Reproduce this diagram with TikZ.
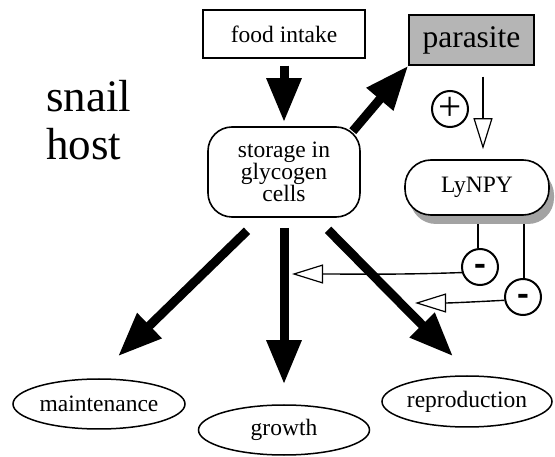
\documentclass[tikz,border=0pt]{standalone}
\usepackage{fontspec}
\usepackage{graphicx}
\setmainfont{Liberation Serif}
\usetikzlibrary{arrows.meta,shapes.geometric}
\begin{document}
\begin{tikzpicture}[x=1pt,y=-1pt,
  txt/.style={font=\fontsize{23.5}{22}\selectfont},
  rectbox/.style={draw,line width=1.5pt,inner sep=0pt,txt},
  roundbox/.style={draw,line width=1.6pt,rounded corners=24pt,inner sep=0pt,txt,align=center,fill=white},
  oval/.style={ellipse,draw,line width=1.5pt,inner sep=0pt,txt},
  sign/.style={circle,draw,line width=2pt,minimum size=36pt,inner sep=0pt,fill=white,txt},
  bigarrow/.style={line width=9pt,-{Triangle[length=44pt,width=33pt]}},
  thinarrow/.style={line width=1.4pt,-{Triangle[open,length=31pt,width=19pt,fill=white,line width=1.2pt]}},
  plainline/.style={line width=1.6pt}
]
\useasboundingbox (0,0) rectangle (555,457);

\node[anchor=base west,inner sep=0pt,txt] (snail) at (46,112) {\scalebox{1.915}{snail}};
\node[anchor=base west,inner sep=0pt,txt] (host) at (46,160) {\scalebox{1.915}{host}};

\node[rectbox,minimum width=162pt,minimum height=48pt] (food) at (284,34) {food intake};
\node[rectbox,fill=gray!58,minimum width=125pt,minimum height=50pt] (par) at (471.5,40) {\scalebox{1.34}{parasite}};
\node[roundbox,minimum width=152pt,minimum height=90pt] (stor) at (284,172) {storage in\\glycogen\\cells};
\node[fill=gray!72,rounded corners=26pt,minimum width=144pt,minimum height=55pt,inner sep=0pt] (lyshadow) at (482,196.5) {};
\node[roundbox,rounded corners=26pt,minimum width=144pt,minimum height=55pt] (ly) at (477,187.5) {LyNPY};

\node[sign] (plus) at (450,109) {\scalebox{1.75}{+}};
\node[sign,text height=23.4pt,text depth=0pt] (m1) at (480,267) {\scalebox{1.5}[2.2]{-}};
\node[sign,text height=23.4pt,text depth=0pt] (m2) at (523,297) {\scalebox{1.5}[2.2]{-}};

\node[oval,minimum width=172pt,minimum height=50pt] (maint) at (99,404) {maintenance};
\node[oval,minimum width=171pt,minimum height=50pt] (growth) at (284,430) {growth};
\node[oval,minimum width=170pt,minimum height=51pt] (repro) at (467,401.5) {reproduction};

\draw[bigarrow] ([yshift=-7pt]food.south) -- ([yshift=4pt]stor.north);
\draw[bigarrow] ([shift={(-8pt,-5pt)}]stor.north east) -- (par.south west);
\draw[bigarrow] ([shift={(-37pt,-13pt)}]stor.south) -- ([shift={(19pt,22pt)}]maint.north);
\draw[bigarrow] ([yshift=-10pt]stor.south) -- ([yshift=20pt]growth.north);
\draw[bigarrow] ([shift={(44pt,-12pt)}]stor.south) -- ([shift={(-14pt,19pt)}]repro.north);

\draw[thinarrow] ([shift={(11.5pt,-11pt)}]par.south) -- ([shift={(6pt,10pt)}]ly.north);

\draw[plainline] ([xshift=-2pt]m1.north |- lyshadow.south) -- ([xshift=-2pt]m1.north);
\draw[plainline] ([xshift=1pt]m2.north |- lyshadow.south) -- ([xshift=1pt]m2.north);

\coordinate (t1) at (292,274);
\coordinate (t2) at (415,303);
\draw[thinarrow] (m1.197) to[out=182,in=0] (t1);
\draw[thinarrow] (m2.190) to[out=183,in=0] (t2);
\end{tikzpicture}
\end{document}
